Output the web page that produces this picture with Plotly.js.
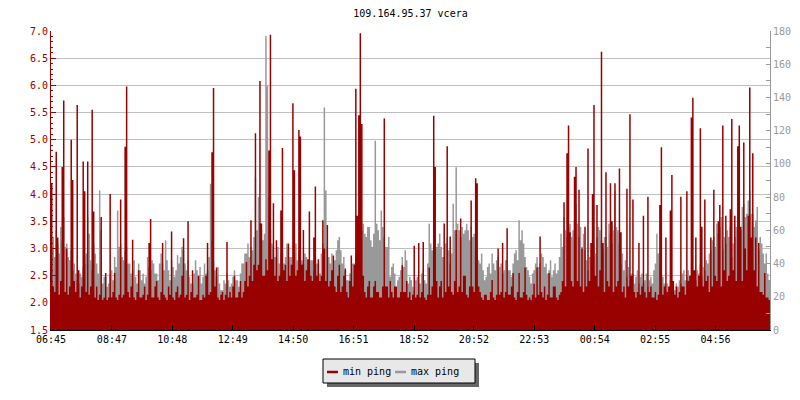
<!DOCTYPE html>
<html>
<head>
<meta charset="utf-8">
<script src="https://cdn.plot.ly/plotly-3.0.1.min.js"></script>
<style>
html,body{margin:0;padding:0;background:#fff;}
#chart{width:800px;height:400px;}
</style>
</head>
<body>
<div id="chart"></div>
<script>
// min ping (left axis, ms), one value per 3 minutes starting 06:45
const minPing = [
4.2,2.3, 2.2,4.78, 3.2,2.15, 2.4,4.5, 5.72,2.2, 3.0,2.15, 2.3,5.0, 4.26,2.4, 2.2,5.64, 2.6,2.1, 2.3,4.6, 4.05,2.2, 4.6,2.15, 2.3,5.55, 3.68,2.1, 2.3,2.05, 2.15,3.58, 2.05,2.1, 2.55,2.05, 2.1,4.0,
2.1,2.2, 2.55,2.1, 2.05,2.15, 3.9,2.1, 2.15,4.87, 5.98,2.2, 2.1,2.3, 3.16,2.1, 2.05,2.2, 2.6,2.1, 2.1,2.15, 2.3,2.05, 2.15,3.1, 3.54,2.1, 2.1,2.3, 2.4,2.1, 2.05,2.2, 3.1,2.15, 2.1,2.05, 2.3,2.15,
3.31,2.1, 2.05,2.2, 2.3,2.1, 2.15,2.5, 3.19,2.1, 2.15,3.5, 2.05,2.2, 2.6,2.1, 2.1,2.15, 2.5,2.05, 2.05,2.15, 2.1,2.5, 3.1,2.15, 2.2,4.77, 5.95,2.3, 2.65,2.1, 2.05,2.15, 2.2,2.05, 2.15,3.12, 2.1,2.2,
2.1,2.3, 2.5,2.1, 2.1,2.2, 2.4,2.1, 2.2,2.4, 2.75,2.3, 2.5,3.52, 2.4,2.7, 5.12,2.6, 2.7,6.08, 3.46,2.5, 2.5,2.8, 2.6,4.8, 6.93,2.8, 3.83,2.5, 3.15,2.4, 2.5,3.7, 4.85,2.6, 2.7,2.4, 3.09,2.5,
2.7,5.67, 4.44,2.5, 2.6,5.18, 5.06,2.7, 3.34,2.4, 2.6,2.8, 3.68,2.5, 2.4,3.2, 4.14,2.5, 2.8,2.4, 2.5,3.52, 3.0,2.4, 3.43,2.3, 2.4,2.6, 2.87,2.3, 2.2,2.5, 2.7,2.2, 2.3,2.5, 2.63,2.2, 2.1,2.4,
2.87,2.3, 2.7,5.94, 3.6,5.45, 6.96,5.29, 2.5,2.2, 2.1,2.3, 2.4,2.1, 2.1,2.3, 2.4,2.2, 2.2,2.1, 2.1,2.3, 5.39,2.3, 2.3,2.1, 2.4,2.2, 2.1,2.3, 2.3,2.1, 2.1,2.2, 2.69,2.2, 2.2,2.4, 2.1,2.2,
2.05,2.15, 3.05,2.1, 2.15,3.1, 2.1,2.2, 3.12,2.1, 2.05,2.15, 2.65,2.15, 2.3,5.44, 4.5,2.4, 2.1,2.3, 2.4,2.1, 3.46,2.2, 4.88,2.3, 3.22,2.2, 2.15,2.4, 3.34,2.2, 2.3,3.55, 2.2,2.5, 2.5,2.15, 2.1,2.3,
3.88,2.3, 2.2,4.29, 4.2,2.3, 2.2,2.1, 2.05,2.15, 2.15,2.05, 2.05,2.2, 2.42,2.1, 2.05,2.15, 3.0,2.15, 2.2,3.1, 2.1,2.2, 3.37,2.15, 2.15,2.3, 2.55,2.1, 2.05,2.2, 2.55,2.1, 2.1,2.2, 2.65,2.15, 2.05,2.1,
2.05,2.15, 2.35,2.1, 2.65,2.15, 3.22,2.2, 2.1,2.3, 2.05,2.15, 2.55,2.1, 2.1,2.3, 2.3,2.1, 2.05,2.15, 2.2,2.4, 3.85,2.3, 4.75,5.26, 3.3,2.4, 2.3,4.32, 4.5,2.4, 4.08,2.3, 3.0,2.2, 3.4,2.3, 4.84,2.4,
3.1,4.0, 5.64,2.5, 3.8,2.3, 2.6,6.62, 3.1,2.2, 4.4,2.4, 2.3,4.2, 3.5,2.2, 4.2,2.3, 2.4,4.47, 3.3,2.2, 2.3,2.1, 4.1,2.3, 5.47,2.5, 3.9,2.2, 2.1,2.2, 3.1,2.15, 2.3,3.6, 2.2,2.1, 3.95,2.2,
2.3,2.1, 2.1,2.2, 2.05,2.15, 3.8,4.86, 2.15,2.3, 3.2,2.2, 2.3,3.7, 4.35,2.4, 2.15,2.3, 2.1,2.2, 3.95,2.3, 2.3,2.15, 4.05,2.4, 2.5,5.41, 5.77,2.6, 3.2,2.3, 2.5,5.21, 3.4,2.3, 3.9,2.4, 2.5,2.2,
3.2,2.3, 4.08,2.5, 2.4,3.5, 3.8,2.3, 5.26,2.6, 3.6,2.4, 2.5,3.72, 5.38,2.6, 3.6,2.4, 4.88,5.26, 3.4,2.4, 4.95,3.0, 2.6,3.6, 5.96,3.2, 4.75,2.6, 3.2,2.3, 3.1,2.2, 2.2,2.15, 2.55,2.1, 2.1,2.05
];
// max ping (right axis, ms)
const maxPing = [
50,56, 44,60, 52,46, 62,54, 68,50, 52,44, 42,48, 36,40, 34,30, 28,34, 32,38, 40,46, 68,58, 42,36, 52,46, 40,34, 84,60, 28,32, 32,26, 28,34,
36,30, 44,38, 72,50, 52,44, 42,48, 50,40, 40,34, 36,42, 32,28, 40,36, 30,34, 28,32, 44,38, 36,42, 40,34, 34,30, 40,46, 40,36, 54,42, 36,30,
42,38, 32,36, 45,40, 44,50, 48,40, 36,42, 32,28, 28,34, 42,36, 32,38, 28,32, 40,34, 36,44, 88,54, 42,36, 32,38, 28,24, 24,30, 28,34, 30,26,
28,32, 36,30, 30,26, 34,40, 40,46, 46,52, 44,50, 48,56, 92,60, 80,64, 60,54, 58,177, 147,80, 60,52, 50,44, 44,50, 40,46, 46,40, 44,52, 50,44,
44,38, 46,52, 42,48, 48,42, 40,46, 44,38, 36,42, 42,36, 36,40, 40,34, 46,52, 134,84, 50,44, 40,46, 36,42, 48,54, 56,48, 40,44, 36,30, 30,34,
34,40, 40,46, 44,52, 52,60, 64,58, 56,62, 62,54, 50,58, 114,64, 60,54, 72,62, 56,50, 50,56, 32,38, 40,34, 24,30, 32,36, 44,38, 48,42, 28,32,
30,26, 24,30, 32,28, 28,34, 36,30, 28,40, 64,52, 48,44, 58,50, 52,58, 50,44, 44,52, 56,48, 40,46, 76,60, 98,64, 60,56, 62,58, 60,64, 60,54,
62,56, 58,50, 48,42, 40,46, 36,30, 32,38, 40,34, 46,40, 36,42, 44,38, 40,34, 36,42, 42,36, 36,32, 40,46, 48,42, 66,54, 60,52, 44,38, 36,32,
28,34, 36,40, 44,38, 40,46, 44,38, 40,34, 36,42, 32,36, 40,34, 36,44, 58,50, 68,60, 56,62, 64,56, 60,66, 76,64, 56,62, 50,58, 48,42, 36,44,
44,50, 52,46, 56,62, 60,54, 48,56, 56,50, 64,58, 52,60, 84,62, 60,52, 40,46, 36,42, 32,38, 30,34, 34,28, 32,36, 28,32, 34,28, 30,34, 26,30,
32,28, 36,40, 58,46, 40,34, 32,28, 24,28, 26,30, 28,24, 24,28, 26,30, 28,34, 36,30, 32,36, 30,26, 26,32, 30,36, 34,40, 32,38, 36,42, 40,46,
48,54, 56,50, 64,58, 62,68, 48,56, 52,60, 56,62, 44,52, 56,62, 60,66, 60,74, 76,68, 70,78, 84,70, 70,62, 66,74, 48,56, 52,46, 40,46, 34,30
];
const tickMinutes = [0,122,243,364,485,606,727,847,968,1089,1210,1331];
const tickLabels = ["06:45","08:47","10:48","12:49","14:50","16:51","18:52","20:52","22:53","00:54","02:55","04:56"];
const spanMinutes = 1440;

const RED = '#990000', GRAY = '#999999';
const FONT = 'DejaVu Sans Mono, Liberation Mono, monospace';

function stepSeries(vals) {
  const st = spanMinutes / vals.length;
  const x = vals.map((_, i) => i * st);
  x.push(spanMinutes);
  return {x: x, y: vals.concat([vals[vals.length - 1]])};
}
const sMin = stepSeries(minPing), sMax = stepSeries(maxPing);

// gray (max) on base axis 'y' (right scale), red (min) on overlaying 'y2' (left scale) so red is drawn above
const traces = [
  {x: sMax.x, y: sMax.y, type: 'scatter', mode: 'lines', name: 'max ping',
   line: {shape: 'hv', width: 0, color: GRAY}, fill: 'tozeroy', fillcolor: GRAY,
   yaxis: 'y', showlegend: false, hoverinfo: 'skip'},
  {x: sMin.x, y: sMin.y, type: 'scatter', mode: 'lines', name: 'min ping',
   line: {shape: 'hv', width: 0, color: RED}, fill: 'tozeroy', fillcolor: RED,
   yaxis: 'y2', showlegend: false, hoverinfo: 'skip'}
];

const L = 51, R = 770, T = 31, B = 330;
const px = v => (v - L) / (R - L);
const py = v => (B - v) / (B - T);

const layout = {
  width: 800, height: 400,
  margin: {l: L, r: 800 - R, t: T, b: 400 - B, pad: 0},
  paper_bgcolor: '#ffffff', plot_bgcolor: '#ffffff',
  showlegend: false,
  font: {family: FONT, size: 10, color: '#000'},
  title: {text: '109.164.95.37 vcera', x: 0.5, xref: 'paper', xanchor: 'center',
          y: 1 - 13.5 / 400, yref: 'container', yanchor: 'middle',
          font: {family: FONT, size: 10, color: '#000'}},
  xaxis: {range: [0, spanMinutes], tickvals: tickMinutes, ticktext: tickLabels,
          showgrid: false, zeroline: false, showline: true, linecolor: '#000', linewidth: 1,
          ticks: 'inside', ticklen: 5, tickcolor: '#000', tickfont: {family: FONT, size: 10, color: '#000'},
          fixedrange: true},
  yaxis2: {range: [1.5, 7.0], dtick: 0.5, tick0: 1.5, tickformat: '.1f', overlaying: 'y', side: 'left',
          showgrid: true, gridcolor: '#c0c0c0', gridwidth: 1, zeroline: false,
          showline: true, linecolor: RED, linewidth: 1,
          ticks: 'inside', ticklen: 5, tickcolor: RED,
          minor: {dtick: 0.1, tick0: 1.5, ticks: 'inside', ticklen: 2, tickcolor: RED, showgrid: false},
          tickfont: {family: FONT, size: 10, color: RED}, fixedrange: true},
  yaxis: {range: [0, 180], dtick: 20, side: 'right',
           showgrid: false, zeroline: false, showline: true, linecolor: GRAY, linewidth: 1,
           ticks: 'inside', ticklen: 4, tickcolor: GRAY,
           minor: {dtick: 10, ticks: 'inside', ticklen: 4, tickcolor: GRAY, showgrid: false},
           tickfont: {family: FONT, size: 10, color: GRAY}, fixedrange: true},
  shapes: [
    {type: 'rect', xref: 'paper', yref: 'paper', x0: px(327), x1: px(479), y0: py(363), y1: py(387),
     fillcolor: '#666666', line: {width: 0}},
    {type: 'rect', xref: 'paper', yref: 'paper', x0: px(323), x1: px(475), y0: py(359), y1: py(383),
     fillcolor: '#e8e8e8', line: {width: 1, color: '#000'}},
    {type: 'line', xref: 'paper', yref: 'paper', x0: px(327), x1: px(338), y0: py(372), y1: py(372),
     line: {width: 2.5, color: RED}},
    {type: 'line', xref: 'paper', yref: 'paper', x0: px(395), x1: px(406), y0: py(372), y1: py(372),
     line: {width: 2.5, color: GRAY}}
  ],
  annotations: [
    {text: 'min ping', xref: 'paper', yref: 'paper', x: px(341), y: py(371.5), xanchor: 'left', yanchor: 'middle',
     showarrow: false, font: {family: FONT, size: 10, color: '#000'}},
    {text: 'max ping', xref: 'paper', yref: 'paper', x: px(409), y: py(371.5), xanchor: 'left', yanchor: 'middle',
     showarrow: false, font: {family: FONT, size: 10, color: '#000'}}
  ]
};

Plotly.newPlot('chart', traces, layout, {displayModeBar: false, staticPlot: true});
</script>
</body>
</html>
